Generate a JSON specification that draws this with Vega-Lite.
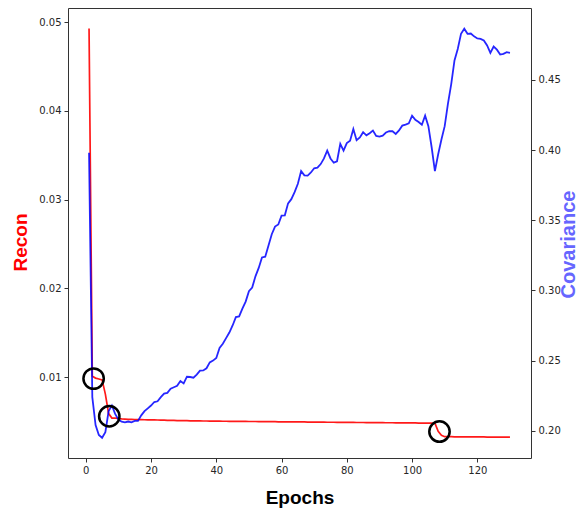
{
  "$schema": "https://vega.github.io/schema/vega-lite/v6.json",
  "width": 463,
  "height": 450,
  "autosize": {"type": "none"},
  "padding": {"left": 68, "top": 8, "right": 47, "bottom": 56},
  "background": "white",
  "config": {
    "view": {"stroke": "#333333", "strokeWidth": 1},
    "axis": {
      "grid": false,
      "domain": false,
      "tickSize": 4,
      "tickColor": "#333333",
      "labelFont": "DejaVu Sans",
      "labelFontSize": 10,
      "labelColor": "#262626",
      "labelPadding": 3,
      "titleFont": "Liberation Sans",
      "titleFontWeight": "bold"
    }
  },
  "data": {
    "values": [
      {"epoch": 1, "recon": 0.0493, "cov": 0.398},
      {"epoch": 2, "recon": 0.0101, "cov": 0.224},
      {"epoch": 3, "recon": 0.0099, "cov": 0.204},
      {"epoch": 4, "recon": 0.0098, "cov": 0.197},
      {"epoch": 5, "recon": 0.0097, "cov": 0.195},
      {"epoch": 6, "recon": 0.0081, "cov": 0.199},
      {"epoch": 7, "recon": 0.0059, "cov": 0.214},
      {"epoch": 8, "recon": 0.0054, "cov": 0.218},
      {"epoch": 9, "recon": 0.0054, "cov": 0.212},
      {"epoch": 10, "recon": 0.00535, "cov": 0.208},
      {"epoch": 11, "recon": 0.0053, "cov": 0.2065},
      {"epoch": 12, "recon": 0.00528, "cov": 0.206},
      {"epoch": 13, "recon": 0.00526, "cov": 0.2066},
      {"epoch": 14, "recon": 0.00525, "cov": 0.206},
      {"epoch": 15, "recon": 0.00524, "cov": 0.207},
      {"epoch": 16, "recon": 0.00523, "cov": 0.207},
      {"epoch": 17, "recon": 0.00522, "cov": 0.211},
      {"epoch": 18, "recon": 0.00521, "cov": 0.214},
      {"epoch": 19, "recon": 0.0052, "cov": 0.216},
      {"epoch": 20, "recon": 0.0052, "cov": 0.218},
      {"epoch": 21, "recon": 0.00519, "cov": 0.2205},
      {"epoch": 22, "recon": 0.00518, "cov": 0.221},
      {"epoch": 23, "recon": 0.00517, "cov": 0.224},
      {"epoch": 24, "recon": 0.00516, "cov": 0.2265},
      {"epoch": 25, "recon": 0.00515, "cov": 0.227},
      {"epoch": 26, "recon": 0.00514, "cov": 0.23},
      {"epoch": 27, "recon": 0.00513, "cov": 0.231},
      {"epoch": 28, "recon": 0.00512, "cov": 0.232},
      {"epoch": 29, "recon": 0.00511, "cov": 0.2355},
      {"epoch": 30, "recon": 0.0051, "cov": 0.2337},
      {"epoch": 31, "recon": 0.0051, "cov": 0.2385},
      {"epoch": 32, "recon": 0.00509, "cov": 0.2383},
      {"epoch": 33, "recon": 0.00509, "cov": 0.2378},
      {"epoch": 34, "recon": 0.00508, "cov": 0.24},
      {"epoch": 35, "recon": 0.00508, "cov": 0.2428},
      {"epoch": 36, "recon": 0.00507, "cov": 0.243},
      {"epoch": 37, "recon": 0.00507, "cov": 0.2445},
      {"epoch": 38, "recon": 0.00506, "cov": 0.2487},
      {"epoch": 39, "recon": 0.00506, "cov": 0.25},
      {"epoch": 40, "recon": 0.00505, "cov": 0.2518},
      {"epoch": 41, "recon": 0.00505, "cov": 0.259},
      {"epoch": 42, "recon": 0.00504, "cov": 0.262},
      {"epoch": 43, "recon": 0.00504, "cov": 0.266},
      {"epoch": 44, "recon": 0.00503, "cov": 0.27},
      {"epoch": 45, "recon": 0.00503, "cov": 0.275},
      {"epoch": 46, "recon": 0.00503, "cov": 0.281},
      {"epoch": 47, "recon": 0.00502, "cov": 0.2815},
      {"epoch": 48, "recon": 0.00502, "cov": 0.287},
      {"epoch": 49, "recon": 0.00502, "cov": 0.292},
      {"epoch": 50, "recon": 0.00501, "cov": 0.2995},
      {"epoch": 51, "recon": 0.00501, "cov": 0.302},
      {"epoch": 52, "recon": 0.00501, "cov": 0.31},
      {"epoch": 53, "recon": 0.005, "cov": 0.316},
      {"epoch": 54, "recon": 0.005, "cov": 0.3235},
      {"epoch": 55, "recon": 0.005, "cov": 0.324},
      {"epoch": 56, "recon": 0.00499, "cov": 0.332},
      {"epoch": 57, "recon": 0.00499, "cov": 0.34},
      {"epoch": 58, "recon": 0.00499, "cov": 0.3455},
      {"epoch": 59, "recon": 0.00498, "cov": 0.347},
      {"epoch": 60, "recon": 0.00498, "cov": 0.3533},
      {"epoch": 61, "recon": 0.00498, "cov": 0.3535},
      {"epoch": 62, "recon": 0.00497, "cov": 0.362},
      {"epoch": 63, "recon": 0.00497, "cov": 0.365},
      {"epoch": 64, "recon": 0.00497, "cov": 0.37},
      {"epoch": 65, "recon": 0.00496, "cov": 0.376},
      {"epoch": 66, "recon": 0.00496, "cov": 0.385},
      {"epoch": 67, "recon": 0.00496, "cov": 0.382},
      {"epoch": 68, "recon": 0.00495, "cov": 0.3818},
      {"epoch": 69, "recon": 0.00495, "cov": 0.384},
      {"epoch": 70, "recon": 0.00495, "cov": 0.387},
      {"epoch": 71, "recon": 0.00494, "cov": 0.3875},
      {"epoch": 72, "recon": 0.00494, "cov": 0.39},
      {"epoch": 73, "recon": 0.00494, "cov": 0.394},
      {"epoch": 74, "recon": 0.00493, "cov": 0.3996},
      {"epoch": 75, "recon": 0.00493, "cov": 0.394},
      {"epoch": 76, "recon": 0.00493, "cov": 0.391},
      {"epoch": 77, "recon": 0.00492, "cov": 0.392},
      {"epoch": 78, "recon": 0.00492, "cov": 0.4044},
      {"epoch": 79, "recon": 0.00492, "cov": 0.3996},
      {"epoch": 80, "recon": 0.00491, "cov": 0.405},
      {"epoch": 81, "recon": 0.00491, "cov": 0.4067},
      {"epoch": 82, "recon": 0.00491, "cov": 0.415},
      {"epoch": 83, "recon": 0.0049, "cov": 0.407},
      {"epoch": 84, "recon": 0.0049, "cov": 0.409},
      {"epoch": 85, "recon": 0.0049, "cov": 0.4127},
      {"epoch": 86, "recon": 0.00489, "cov": 0.4105},
      {"epoch": 87, "recon": 0.00489, "cov": 0.412},
      {"epoch": 88, "recon": 0.00489, "cov": 0.4139},
      {"epoch": 89, "recon": 0.00488, "cov": 0.41},
      {"epoch": 90, "recon": 0.00488, "cov": 0.4096},
      {"epoch": 91, "recon": 0.00488, "cov": 0.4103},
      {"epoch": 92, "recon": 0.00487, "cov": 0.4125},
      {"epoch": 93, "recon": 0.00487, "cov": 0.4134},
      {"epoch": 94, "recon": 0.00487, "cov": 0.4134},
      {"epoch": 95, "recon": 0.00486, "cov": 0.4115},
      {"epoch": 96, "recon": 0.00486, "cov": 0.414},
      {"epoch": 97, "recon": 0.00486, "cov": 0.4174},
      {"epoch": 98, "recon": 0.00485, "cov": 0.4181},
      {"epoch": 99, "recon": 0.00485, "cov": 0.419},
      {"epoch": 100, "recon": 0.00485, "cov": 0.4245},
      {"epoch": 101, "recon": 0.00485, "cov": 0.4215},
      {"epoch": 102, "recon": 0.00484, "cov": 0.42},
      {"epoch": 103, "recon": 0.00484, "cov": 0.418},
      {"epoch": 104, "recon": 0.00484, "cov": 0.4245},
      {"epoch": 105, "recon": 0.00483, "cov": 0.417},
      {"epoch": 106, "recon": 0.00483, "cov": 0.402},
      {"epoch": 107, "recon": 0.00482, "cov": 0.385},
      {"epoch": 108, "recon": 0.0039, "cov": 0.397},
      {"epoch": 109, "recon": 0.00345, "cov": 0.4075},
      {"epoch": 110, "recon": 0.0033, "cov": 0.417},
      {"epoch": 111, "recon": 0.0033, "cov": 0.433},
      {"epoch": 112, "recon": 0.0033, "cov": 0.447},
      {"epoch": 113, "recon": 0.00329, "cov": 0.4638},
      {"epoch": 114, "recon": 0.00329, "cov": 0.472},
      {"epoch": 115, "recon": 0.00329, "cov": 0.4828},
      {"epoch": 116, "recon": 0.00328, "cov": 0.4864},
      {"epoch": 117, "recon": 0.00328, "cov": 0.4828},
      {"epoch": 118, "recon": 0.00328, "cov": 0.483},
      {"epoch": 119, "recon": 0.00327, "cov": 0.481},
      {"epoch": 120, "recon": 0.00327, "cov": 0.4795},
      {"epoch": 121, "recon": 0.00327, "cov": 0.4792},
      {"epoch": 122, "recon": 0.00327, "cov": 0.478},
      {"epoch": 123, "recon": 0.00326, "cov": 0.4745},
      {"epoch": 124, "recon": 0.00326, "cov": 0.4692},
      {"epoch": 125, "recon": 0.00326, "cov": 0.4737},
      {"epoch": 126, "recon": 0.00326, "cov": 0.4715},
      {"epoch": 127, "recon": 0.00325, "cov": 0.468},
      {"epoch": 128, "recon": 0.00325, "cov": 0.4685},
      {"epoch": 129, "recon": 0.00325, "cov": 0.4697},
      {"epoch": 130, "recon": 0.00325, "cov": 0.4692}
    ]
  },
  "encoding": {
    "x": {
      "field": "epoch",
      "type": "quantitative",
      "scale": {"domain": [-5.45, 136.45], "nice": false, "zero": false},
      "axis": {
        "values": [0, 20, 40, 60, 80, 100, 120],
        "title": "Epochs",
        "titleFontSize": 19,
        "titleColor": "black",
        "titleX": 231.5,
        "titleY": 39,
        "titleBaseline": "middle",
        "titleAlign": "center"
      }
    }
  },
  "layer": [
    {
      "mark": {"type": "line", "color": "#ff0000", "strokeWidth": 1.7, "opacity": 0.9},
      "encoding": {
        "y": {
          "field": "recon",
          "type": "quantitative",
          "scale": {"domain": [0.0009, 0.0516], "nice": false, "zero": false},
          "axis": {
            "orient": "left",
            "values": [0.01, 0.02, 0.03, 0.04, 0.05],
            "format": ".2f",
            "title": "Recon",
            "titleFontSize": 19,
            "titleColor": "#ff0000",
            "titleAngle": 270,
            "titleX": -48,
            "titleY": 234,
            "titleBaseline": "middle",
            "titleAlign": "center"
          }
        }
      }
    },
    {
      "mark": {"type": "line", "color": "#0000ff", "strokeWidth": 1.8, "opacity": 0.85},
      "encoding": {
        "y": {
          "field": "cov",
          "type": "quantitative",
          "scale": {"domain": [0.1806, 0.5012], "nice": false, "zero": false},
          "axis": {
            "orient": "right",
            "values": [0.2, 0.25, 0.3, 0.35, 0.4, 0.45],
            "format": ".2f",
            "title": "Covariance",
            "titleFontSize": 20,
            "titleColor": "#6666ff",
            "titleAngle": 270,
            "titleX": 37,
            "titleY": 236,
            "titleBaseline": "middle",
            "titleAlign": "center"
          }
        }
      }
    },
    {
      "data": {
        "values": [
          {"epoch": 2.4, "recon": 0.00985},
          {"epoch": 7.2, "recon": 0.0056},
          {"epoch": 108.4, "recon": 0.00388}
        ]
      },
      "mark": {"type": "point", "shape": "circle", "filled": false, "stroke": "black", "strokeWidth": 2.5, "size": 415, "opacity": 1},
      "encoding": {
        "y": {
          "field": "recon",
          "type": "quantitative",
          "scale": {"domain": [0.0009, 0.0516], "nice": false, "zero": false},
          "axis": null
        }
      }
    }
  ],
  "resolve": {"scale": {"y": "independent"}}
}
